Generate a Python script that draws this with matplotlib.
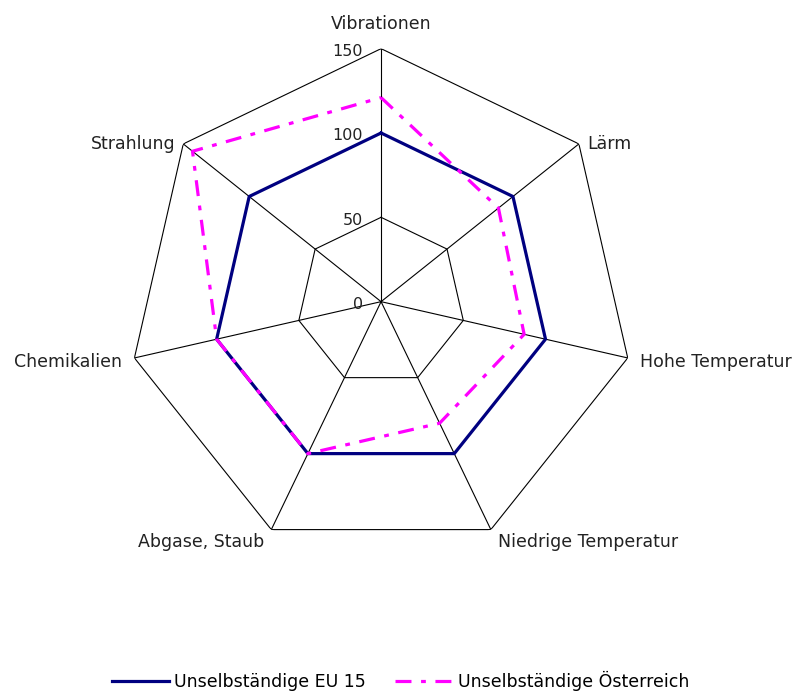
import numpy as np
import matplotlib.pyplot as plt

# Kategorien (im Uhrzeigersinn, oben beginnend)
categories = ["Vibrationen", "Lärm", "Hohe Temperatur", "Niedrige Temperatur",
              "Abgase, Staub", "Chemikalien", "Strahlung"]
eu15 = [100, 100, 100, 100, 100, 100, 100]
oesterreich = [121, 89, 87, 80, 100, 100, 143]
ticks = [0, 50, 100, 150]
series_labels = ["Unselbständige EU 15", "Unselbständige Österreich"]

plt.rcParams["font.family"] = ["DejaVu Sans"]

n = len(categories)
angles = np.arange(n) * 2 * np.pi / n
closed = np.append(angles, angles[0])

fig = plt.figure(figsize=(8.01, 6.91), dpi=100)
ax = fig.add_axes([0.1599, 0.1973, 0.6317, 0.7323], projection="polar")
ax.set_theta_offset(np.pi / 2)
ax.set_theta_direction(-1)
ax.set_ylim(0, ticks[-1])
ax.grid(False)
ax.spines["polar"].set_visible(False)
ax.set_xticks([])
ax.set_yticks([])

# Gitter als Siebeneck
for t in ticks[1:]:
    ax.plot(closed, [t] * (n + 1), color="black", lw=0.8, zorder=1)
for a in angles:
    ax.plot([a, a], [0, ticks[-1]], color="black", lw=0.8, zorder=1)

# Achsenbeschriftung
for t in ticks:
    ax.annotate(str(t), (0, t), xytext=(-18, -3), textcoords="offset pixels",
                ha="right", va="center", fontsize=11.5, color="#222222")

# Datenreihen
ax.plot(closed, eu15 + eu15[:1], color="#000080", lw=2.3, label=series_labels[0], zorder=3)
ax.plot(closed, oesterreich + oesterreich[:1], color="#FF00FF", lw=2.3,
        linestyle=(0, (5, 3, 1.5, 3)), label=series_labels[1], zorder=4)

# Kategorienamen
offsets = [(0, 16, "center", "bottom"), (8, 0, "left", "center"),
           (12, -4, "left", "center"), (7, -3, "left", "top"),
           (-7, -3, "right", "top"), (-12, -4, "right", "center"),
           (-8, 0, "right", "center")]
for a, name, (dx, dy, ha, va) in zip(angles, categories, offsets):
    ax.annotate(name, (a, ticks[-1]), xytext=(dx, dy), textcoords="offset pixels",
                ha=ha, va=va, fontsize=12.5, color="#222222", annotation_clip=False)

fig.legend(loc="lower center", bbox_to_anchor=(0.5, -0.022), ncol=2, frameon=False,
           fontsize=12.5, handlelength=3.3, handletextpad=0.3, columnspacing=1.7)

fig.savefig("out.png", dpi=100)
